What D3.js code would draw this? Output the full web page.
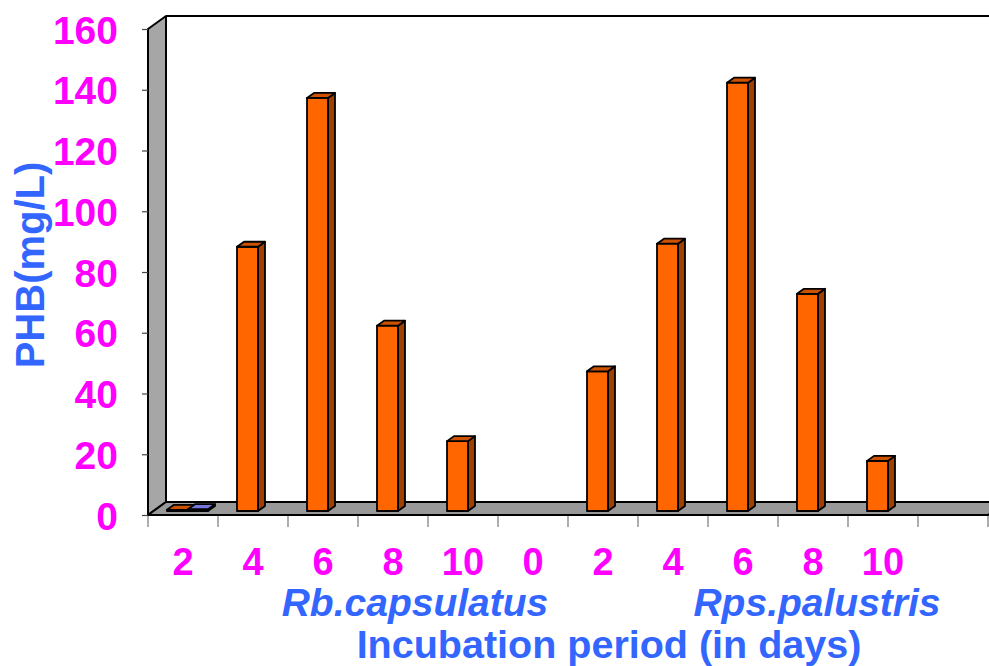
<!DOCTYPE html>
<html><head><meta charset="utf-8">
<script src="https://cdn.jsdelivr.net/npm/d3@7"></script>
<style>body{margin:0;background:#fff;}svg{display:block;}</style>
</head><body>
<svg id="c" width="989" height="666"></svg>
<script>
// ---- data ----
const categories = ["2","4","6","8","10","0","2","4","6","8","10",""];
const phbValues  = [0.4, 87, 136, 61, 23, null, 46, 88, 141, 71.5, 16.5, null];
const blueValues = [0.6, null, null, null, null, null, null, null, null, null, null, null];
const yTicks = [0,20,40,60,80,100,120,140,160];
const groupLabels = ["Rb.capsulatus","Rps.palustris"];
const xTitle = "Incubation period (in days)";
const yTitle = "PHB(mg/L)";

// ---- geometry ----
const svg = d3.select("#c");
const left = 148, right = 988, front = 515;
const DX = 18, DY = 13;          // wall depth offset
const bdy = 4;                   // bar plane offset from front
const sdx = 7, sdy = 5;          // bar depth
const idx = categories.map((d,i)=>i);
const x = d3.scaleBand().domain(idx).range([left, right]).padding(0);
const yFront = d3.scaleLinear().domain([0,160]).range([front, 29]);
const yBar = d3.scaleLinear().domain([0,160]).range([front - bdy, 29 - bdy]);
const plotTop = yFront(160);

const wallGray = "#a6a6a6", floorGray = "#999999";
// back wall
svg.append("polygon")
  .attr("points", [[left+DX, plotTop-DY],[1000, plotTop-DY],[1000, front-DY],[left+DX, front-DY]].join(" "))
  .attr("fill", "#fff").attr("stroke", "none");
svg.append("line").attr("x1", left+DX).attr("x2", 1000).attr("y1", plotTop-DY).attr("y2", plotTop-DY)
  .attr("stroke", "#000").attr("stroke-width", 2);
// left wall
svg.append("polygon")
  .attr("points", [[left, plotTop],[left+DX, plotTop-DY],[left+DX, front-DY],[left, front]].join(" "))
  .attr("fill", wallGray).attr("stroke", "#000").attr("stroke-width", 2).attr("stroke-linejoin","round");
// floor
svg.append("polygon")
  .attr("points", [[left, front],[left+DX, front-DY],[right+DX, front-DY],[right, front]].join(" "))
  .attr("fill", floorGray).attr("stroke", "#000").attr("stroke-width", 2).attr("stroke-linejoin","round");

const font = "Liberation Sans, Arial, sans-serif";
// y axis
const yAxis = d3.axisLeft(yFront).tickValues(yTicks).tickSize(6).tickPadding(24);
const ga = svg.append("g").attr("transform", `translate(${left},0)`).call(yAxis);
ga.select(".domain").remove();
ga.selectAll(".tick line").attr("stroke", "#444").attr("stroke-width", 1.2);
ga.selectAll(".tick text").attr("fill", "#ff00ff").attr("font-family", font)
  .attr("font-weight", "bold").attr("font-size", 39).attr("dy", "0.36em");

// x axis
const xAxis = d3.axisBottom(x).tickFormat(i => categories[i]).tickSize(0).tickPadding(0);
const gx = svg.append("g").attr("transform", `translate(0,${front})`).call(xAxis);
gx.select(".domain").remove();
gx.selectAll(".tick text").attr("fill", "#ff00ff").attr("font-family", font)
  .attr("font-weight", "bold").attr("font-size", 38).attr("y", 60).attr("dy", 0);
// x tick marks at category boundaries
svg.append("g").selectAll("line").data(d3.range(categories.length + 1)).join("line")
  .attr("x1", i => left + i * x.bandwidth()).attr("x2", i => left + i * x.bandwidth())
  .attr("y1", front + 1).attr("y2", front + 12).attr("stroke", "#777").attr("stroke-width", 1.2);

// bars
function bar3d(g, x0, w, v, cFront, cTop, cSide) {
  const y0 = yBar(0), y1 = yBar(v);
  const pts = (a) => a.map(p => p.join(",")).join(" ");
  const add = (p, c) => g.append("polygon").attr("points", pts(p)).attr("fill", c)
    .attr("stroke", "#000").attr("stroke-width", 1.8).attr("stroke-linejoin", "round");
  add([[x0+w, y1],[x0+w+sdx, y1-sdy],[x0+w+sdx, y0-sdy],[x0+w, y0]], cSide);
  add([[x0, y0],[x0, y1],[x0+w, y1],[x0+w, y0]], cFront);
  add([[x0, y1],[x0+sdx, y1-sdy],[x0+w+sdx, y1-sdy],[x0+w, y1]], cTop);
}
const gb = svg.append("g");
idx.forEach(i => {
  const xs = x(i);
  if (phbValues[i] != null) bar3d(gb, xs + 19, 21, phbValues[i], "#ff6600", "#cc5200", "#a04000");
  if (blueValues[i] != null) bar3d(gb, xs + 40, 20, blueValues[i], "#9999ff", "#7777dd", "#5555aa");
});

// titles
const blue = "#3366ff";
svg.append("text").attr("x", 415).attr("y", 616).attr("text-anchor", "middle")
  .attr("font-family", font).attr("font-weight", "bold").attr("font-style", "italic")
  .attr("font-size", 39).attr("fill", blue).text(groupLabels[0]);
svg.append("text").attr("x", 817).attr("y", 616).attr("text-anchor", "middle")
  .attr("font-family", font).attr("font-weight", "bold").attr("font-style", "italic")
  .attr("font-size", 39).attr("fill", blue).text(groupLabels[1]);
svg.append("text").attr("x", 609).attr("y", 658).attr("text-anchor", "middle")
  .attr("font-family", font).attr("font-weight", "bold")
  .attr("font-size", 39.5).attr("fill", blue).text(xTitle);
svg.append("text").attr("transform", "translate(44,265) rotate(-90)").attr("text-anchor", "middle")
  .attr("font-family", font).attr("font-weight", "bold")
  .attr("font-size", 40).attr("fill", blue).text(yTitle);
</script>
</body></html>
